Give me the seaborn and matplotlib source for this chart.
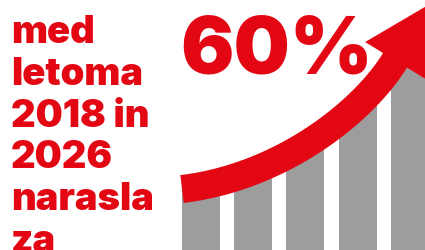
import numpy as np
import matplotlib
matplotlib.use('Agg')
import matplotlib.pyplot as plt
import seaborn as sns
from matplotlib.patches import Polygon

# data (growth index, 2018 = 100)
years = ['2018', '2020', '2022', '2024', '2026']
index_values = [100, 108, 121, 140, 160]
headline = '60%'
caption_lines = ['med', 'letoma', '2018 in', '2026', 'narasla', 'za']

RED = '#E30613'
GREY = '#9D9D9D'

sns.set_theme(style='white')
plt.rcParams['font.family'] = ['Inter', 'DejaVu Sans']

fig = plt.figure(figsize=(4.25, 2.5), dpi=100)
fig.patch.set_facecolor('white')

# bars
ax = fig.add_axes([0, 0, 1, 1])
sns.barplot(x=years, y=index_values, color=GREY, saturation=1,
            width=0.73, linewidth=0, ax=ax)
ax.set_xlim(-3.85, 4.29)
ax.set_ylim(72.3, 187.7)
ax.axis('off')

# overlay in pixel space for the arrow and the texts
ov = fig.add_axes([0, 0, 1, 1])
ov.set_xlim(0, 425)
ov.set_ylim(250, 0)
ov.axis('off')
ov.patch.set_alpha(0)

# curved arrow (cubic bezier body + head)
p0 = np.array([182, 189.0])
p1 = np.array([282, 177.0])
p3 = np.array([395, 60.3])
d_end = np.array([0.52, -0.85])
d_end = d_end / np.linalg.norm(d_end)
p2 = p3 - 60 * d_end
half_w = 14

t = np.linspace(0, 1, 120)[:, None]
pts = (1 - t) ** 3 * p0 + 3 * (1 - t) ** 2 * t * p1 + 3 * (1 - t) * t ** 2 * p2 + t ** 3 * p3
der = 3 * (1 - t) ** 2 * (p1 - p0) + 6 * (1 - t) * t * (p2 - p1) + 3 * t ** 2 * (p3 - p2)
der = der / np.linalg.norm(der, axis=1, keepdims=True)
nrm = np.column_stack([der[:, 1], -der[:, 0]])
top = pts + half_w * nrm
bot = pts - half_w * nrm
n_end = np.array([d_end[1], -d_end[0]])
head = [p3 + 35 * n_end, p3 + 65.5 * d_end, p3 - 35 * n_end]
verts = np.vstack([top, head, bot[::-1]])
ov.add_patch(Polygon(verts, closed=True, facecolor=RED, edgecolor='none'))

# texts
ov.text(180, 73, headline, color=RED, fontsize=57, fontweight=900,
        family=['Inter', 'DejaVu Sans'], va='baseline', ha='left')
for i, line in enumerate(caption_lines):
    ov.text(11, 43 + i * 41.8, line, color=RED, fontsize=27.5, fontweight=900,
            family=['Inter', 'DejaVu Sans'], va='baseline', ha='left')

fig.savefig('out.png', dpi=100)
